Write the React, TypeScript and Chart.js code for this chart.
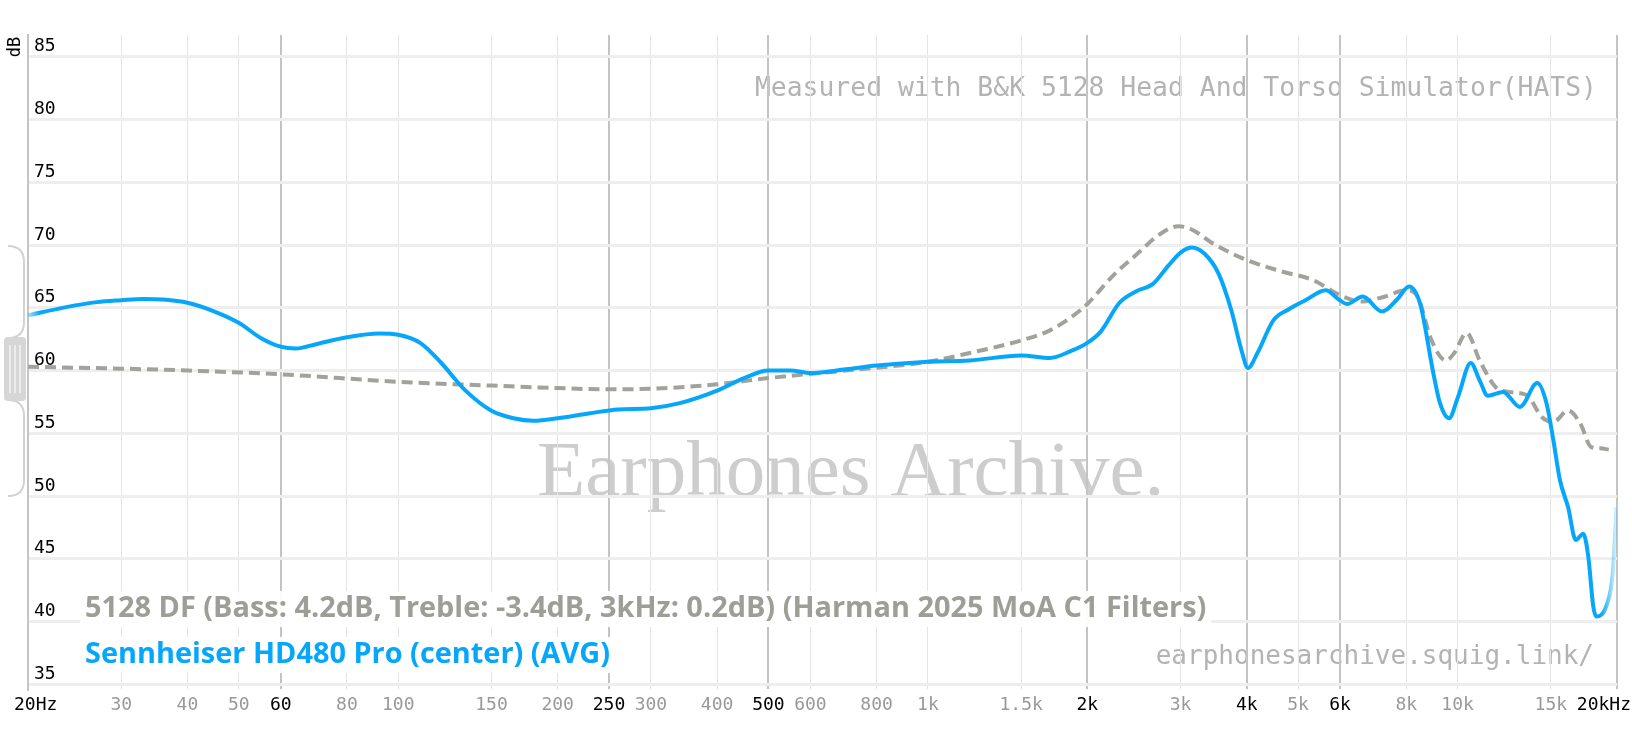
import { useEffect, useRef } from 'react';
import { Chart, registerables } from 'chart.js';
import type { Plugin, ScriptableContext } from 'chart.js';

Chart.register(...registerables);

const W = 1632;
const H = 743;
const MONO = '"DejaVu Sans Mono", monospace';
const BLUE = '#06a7fa';
const TARGET_GREY = '#a0a39b';

// Sennheiser HD480 Pro (center) (AVG)
const hd480Freqs = [
  20, 23.6, 27, 30, 33, 36, 40, 45, 50, 55, 60, 64, 70, 80, 92, 100, 110, 120, 134, 150,
  165, 180, 200, 230, 260, 300, 340, 400, 450, 500, 550, 600, 700, 800, 1000, 1200, 1500,
  1700, 1850, 2000, 2120, 2300, 2470, 2660, 2850, 3000, 3150, 3330, 3540, 3740, 3910, 4020,
  4190, 4490, 4810, 5160, 5640, 5950, 6190, 6620, 7200, 7700, 8100, 8500, 9000, 9265, 9640,
  10020, 10590, 11010, 11400, 12190, 13110, 14140, 14720, 15160, 15600, 16170, 16720, 17270,
  17650, 18040, 18290, 19170, 19630, 19960,
];
const hd480Db = [
  64.4, 65.05, 65.45, 65.6, 65.7, 65.65, 65.4, 64.7, 63.8, 62.6, 61.9, 61.75, 62.1, 62.65, 62.95, 62.85, 62.2, 60.7, 58.4, 56.8,
  56.2, 56.0, 56.2, 56.6, 56.9, 57.0, 57.4, 58.4, 59.4, 60.0, 60.0, 59.8, 60.1, 60.4, 60.7, 60.8, 61.2,
  61.0, 61.5, 62.2, 63.1, 65.4, 66.3, 66.9, 68.4, 69.4, 69.8, 69.3, 67.7, 64.8, 61.6, 60.2,
  61.4, 64.0, 64.9, 65.6, 66.4, 65.7, 65.3, 65.9, 64.7, 65.7, 66.7, 65.3, 59.8, 57.4, 56.2,
  57.9, 60.6, 59.2, 58.0, 58.3, 57.1, 59.0, 57.4, 54.5, 51.3, 49.1, 46.5, 47.0,
  45.2, 41.2, 40.4, 41.45, 43.8, 49.1,
];

// 5128 DF target (Harman 2025 MoA C1 filters)
const targetFreqs = [
  20, 30, 40, 60, 100, 150, 200, 250, 300, 400, 500, 700, 1000, 1200, 1500, 1700, 1940, 2000,
  2230, 2470, 2750, 2970, 3160, 3460, 4000, 4650, 5340, 6000, 6600, 7300, 8000, 8400, 8930,
  9510, 9860, 10400, 11010, 11790, 12480, 13500, 14420, 15160, 16170, 17040, 17880, 18600, 19300,
];
const targetDb = [
  60.3, 60.15, 60.0, 59.7, 59.1, 58.8, 58.6, 58.5, 58.55, 58.9, 59.4, 60.0, 60.7, 61.4, 62.4, 63.2, 64.8, 65.3,
  67.5, 69.2, 70.9, 71.5, 71.2, 70.1, 68.8, 67.9, 67.2, 66.0, 65.5, 65.9, 66.4, 65.9, 62.4,
  60.8, 61.4, 63.0, 60.8, 58.7, 58.3, 58.05, 56.3, 55.9, 56.8, 55.8, 53.9, 53.8, 53.7,
];

const xTickValues = [
  20, 30, 40, 50, 60, 80, 100, 150, 200, 250, 300, 400, 500, 600, 800, 1000, 1500, 2000,
  3000, 4000, 5000, 6000, 8000, 10000, 15000, 20000,
];
const xTickLabels = [
  '20Hz', '30', '40', '50', '60', '80', '100', '150', '200', '250', '300', '400', '500', '600',
  '800', '1k', '1.5k', '2k', '3k', '4k', '5k', '6k', '8k', '10k', '15k', '20kHz',
];
const boldTicks = [20, 60, 250, 500, 2000, 4000, 6000, 20000];
const yTickValues = [35, 40, 45, 50, 55, 60, 65, 70, 75, 80, 85];

const targetLabel = '5128 DF (Bass: 4.2dB, Treble: -3.4dB, 3kHz: 0.2dB) (Harman 2025 MoA C1 Filters)';
const deviceLabel = 'Sennheiser HD480 Pro (center) (AVG)';
const rigNote = 'Measured with B&K 5128 Head And Torso Simulator(HATS)';
const siteUrl = 'earphonesarchive.squig.link/';
const brand = 'Earphones Archive.';

function blueStroke(ctx: ScriptableContext<'line'>) {
  const { chart } = ctx;
  const area = chart.chartArea;
  if (!area) return BLUE;
  const w = area.right - area.left;
  const g = chart.ctx.createLinearGradient(area.left, 0, area.right, 0);
  g.addColorStop(0, 'rgba(6,167,250,0.35)');
  g.addColorStop(12 / w, BLUE);
  g.addColorStop(1 - 16 / w, BLUE);
  g.addColorStop(1, 'rgba(6,167,250,0.12)');
  return g;
}

// white page, watermarks and the little scaling handle on the left
const backdropPlugin: Plugin<'line'> = {
  id: 'backdrop',
  beforeDraw(chart) {
    const c = chart.ctx;
    c.save();
    c.fillStyle = '#fff';
    c.fillRect(0, 0, chart.width, chart.height);

    c.fillStyle = '#cdcdcd';
    c.font = '79px "Liberation Serif", serif';
    c.textAlign = 'left';
    c.textBaseline = 'alphabetic';
    c.fillText(brand, 537, 495);

    c.fillStyle = '#b3b3b3';
    c.font = `26.4px ${MONO}`;
    c.textAlign = 'right';
    c.textBaseline = 'middle';
    c.fillText(rigNote, 1597, 89);
    c.font = `26px ${MONO}`;
    c.fillText(siteUrl, 1594, 657);

    // handle
    c.strokeStyle = '#d2d2d2';
    c.lineWidth = 2;
    c.beginPath();
    c.moveTo(8, 246);
    c.quadraticCurveTo(24, 246, 24, 262);
    c.lineTo(24, 322);
    c.quadraticCurveTo(24, 338, 8, 338);
    c.moveTo(8, 400);
    c.quadraticCurveTo(24, 400, 24, 416);
    c.lineTo(24, 480);
    c.quadraticCurveTo(24, 496, 8, 496);
    c.stroke();
    c.fillStyle = '#d6d6d6';
    c.beginPath();
    c.roundRect(4, 337, 22, 64, 4);
    c.fill();
    c.strokeStyle = '#f4f4f4';
    c.lineWidth = 1.5;
    c.beginPath();
    [10, 15, 20].forEach((x) => {
      c.moveTo(x, 345);
      c.lineTo(x, 393);
    });
    c.stroke();

    // axis unit
    c.translate(16, 47);
    c.rotate(-Math.PI / 2);
    c.fillStyle = '#000';
    c.font = `17px ${MONO}`;
    c.textAlign = 'center';
    c.textBaseline = 'middle';
    c.fillText('dB', 0, 0);
    c.restore();
  },
};

// legend lines and frequency labels
const labelsPlugin: Plugin<'line'> = {
  id: 'labels',
  afterDraw(chart) {
    const c = chart.ctx;
    const xScale = chart.scales.x;
    c.save();

    c.font = `18px ${MONO}`;
    c.textBaseline = 'middle';
    xTickValues.forEach((v, i) => {
      const px = xScale.getPixelForValue(v);
      c.fillStyle = boldTicks.includes(v) ? '#000' : '#999';
      if (i === 0) {
        c.textAlign = 'left';
        c.fillText(xTickLabels[i], px - 14, 705);
      } else if (i === xTickValues.length - 1) {
        c.textAlign = 'right';
        c.fillText(xTickLabels[i], W - 1, 705);
      } else {
        c.textAlign = 'center';
        c.fillText(xTickLabels[i], px, 705);
      }
    });

    c.font = 'bold 28.9px "Open Sans", sans-serif';
    c.textAlign = 'left';
    c.textBaseline = 'alphabetic';
    const rows = [
      { text: targetLabel, color: '#9d9e97', base: 617 },
      { text: deviceLabel, color: BLUE, base: 663 },
    ];
    rows.forEach((r) => {
      const w = c.measureText(r.text).width;
      c.fillStyle = 'rgba(255,255,255,0.92)';
      c.fillRect(80, r.base - 26, w + 10, 36);
    });
    rows.forEach((r) => {
      c.fillStyle = r.color;
      c.fillText(r.text, 85, r.base);
    });
    c.restore();
  },
};

export default function App() {
  const canvasRef = useRef<HTMLCanvasElement | null>(null);

  useEffect(() => {
    document.body.style.margin = '0';
    if (!canvasRef.current) return;

    const chart = new Chart(canvasRef.current, {
      type: 'line',
      data: {
        datasets: [
          {
            label: deviceLabel,
            data: hd480Freqs.map((f, i) => ({ x: f, y: hd480Db[i] })),
            borderColor: blueStroke,
            borderWidth: 4,
            pointRadius: 0,
            cubicInterpolationMode: 'monotone',
            fill: false,
          },
          {
            label: targetLabel,
            data: targetFreqs.map((f, i) => ({ x: f, y: targetDb[i] })),
            borderColor: TARGET_GREY,
            borderWidth: 4,
            borderDash: [11, 6],
            pointRadius: 0,
            cubicInterpolationMode: 'monotone',
            fill: false,
          },
        ],
      },
      options: {
        animation: false,
        responsive: false,
        devicePixelRatio: 1,
        layout: { padding: { top: 35, right: 15, left: 0, bottom: 0 } },
        plugins: {
          legend: { display: false },
          tooltip: { enabled: false },
        },
        scales: {
          x: {
            type: 'logarithmic',
            min: 20,
            max: 20000,
            afterBuildTicks: (s) => {
              s.ticks = xTickValues.map((v) => ({ value: v }));
            },
            afterFit: (s) => {
              s.height = H - 689;
            },
            ticks: { display: false },
            grid: {
              drawTicks: false,
              color: (ctx) => (boldTicks.includes(ctx.tick?.value) ? '#c4c4c4' : '#e4e4e4'),
              lineWidth: (ctx) => (boldTicks.includes(ctx.tick?.value) ? 2 : 1),
            },
            border: { display: false },
          },
          y: {
            min: 34.63,
            max: 86.73,
            afterBuildTicks: (s) => {
              s.ticks = yTickValues.map((v) => ({ value: v }));
            },
            afterFit: (s) => {
              s.width = 28;
            },
            ticks: {
              mirror: true,
              padding: 6,
              labelOffset: -10,
              color: '#000',
              font: { family: 'DejaVu Sans Mono', size: 18 },
            },
            grid: { drawTicks: false, color: '#eeeeee', lineWidth: 3 },
            border: { display: true, color: '#c4c4c4', width: 2 },
          },
        },
      },
      plugins: [backdropPlugin, labelsPlugin],
    });

    return () => chart.destroy();
  }, []);

  return (
    <div style={{ position: 'relative', width: W, height: H }}>
      <canvas ref={canvasRef} width={W} height={H} style={{ display: 'block', width: W, height: H }} />
    </div>
  );
}
